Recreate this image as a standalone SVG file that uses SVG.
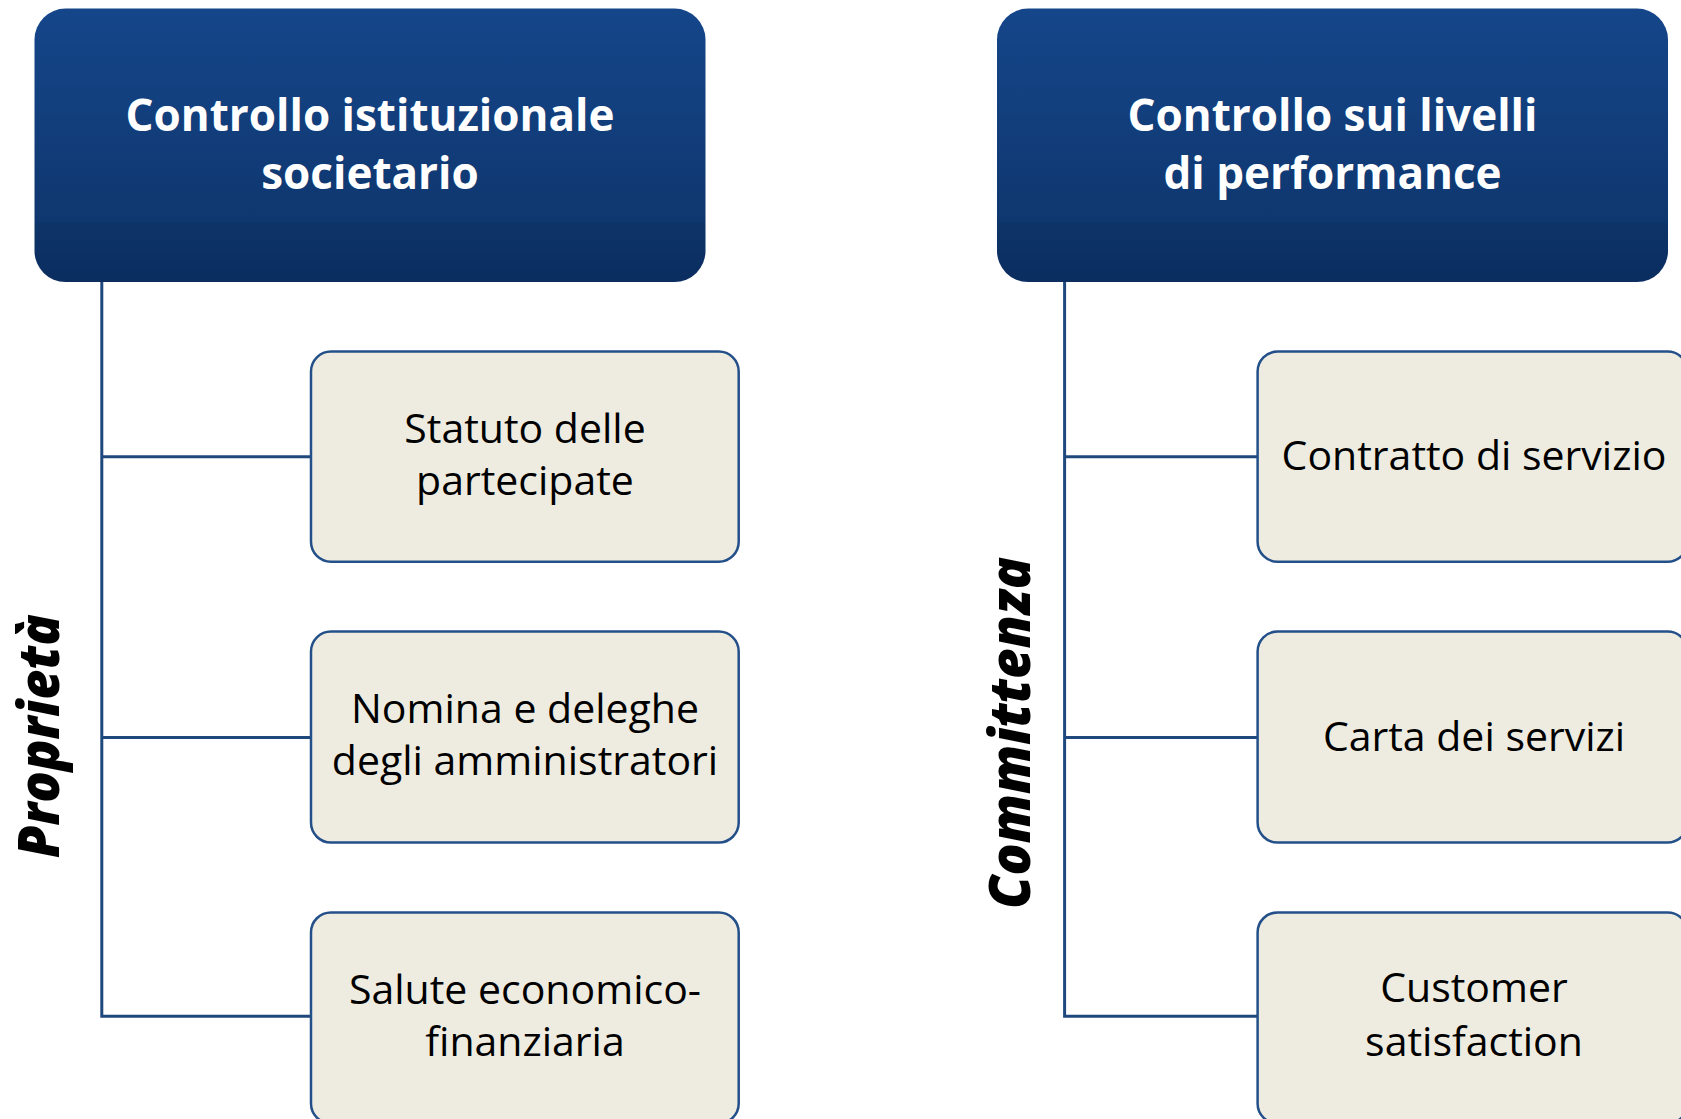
<svg xmlns="http://www.w3.org/2000/svg" width="1681" height="1119" viewBox="0 0 1681 1119">
<defs>
<linearGradient id="hdr" x1="0" y1="0" x2="0" y2="1">
<stop offset="0" stop-color="#15468A"/>
<stop offset="0.78" stop-color="#0F376F"/>
<stop offset="0.785" stop-color="#0D3468"/>
<stop offset="1" stop-color="#0B2D60"/>
</linearGradient>
<style>
.hdr{fill:url(#hdr);}
.hdrt{font-family:"Open Sans","Liberation Sans",sans-serif;font-weight:bold;font-size:44px;fill:#FFFFFF;text-anchor:middle;}
.box{fill:#EEECE1;stroke:#24508A;stroke-width:2.5;}
.boxt{font-family:"Open Sans","Liberation Sans",sans-serif;font-size:41px;fill:#000000;text-anchor:middle;}
.side{font-family:"Open Sans","DejaVu Sans",sans-serif;font-weight:800;font-style:italic;font-size:56px;fill:#000000;text-anchor:middle;}
.conn{fill:none;stroke:#1F497D;stroke-width:3;}
</style>
</defs>
<rect width="1681" height="1119" fill="#FFFFFF"/>
<g id="connectors">
<path class="conn" d="M101.8 282 V1016.3 H311"/>
<path class="conn" d="M101.8 456.7 H311"/>
<path class="conn" d="M101.8 737.6 H311"/>
<path class="conn" d="M1064.6 282 V1016.3 H1257.6"/>
<path class="conn" d="M1064.6 456.7 H1257.6"/>
<path class="conn" d="M1064.6 737.6 H1257.6"/>
</g>
<g id="hdr-left">
<rect class="hdr" x="34.5" y="8.6" width="671" height="273.4" rx="31"/>
<text class="hdrt" x="370" y="131">Controllo istituzionale</text>
<text class="hdrt" x="370" y="189">societario</text>
</g>
<g id="hdr-right">
<rect class="hdr" x="997" y="8.6" width="671" height="273.4" rx="31"/>
<text class="hdrt" x="1332.5" y="131">Controllo sui livelli</text>
<text class="hdrt" x="1332.5" y="189">di performance</text>
</g>
<g id="label-proprieta">
<text class="side" transform="translate(59,736) rotate(-90)" textLength="244" lengthAdjust="spacingAndGlyphs">Proprietà</text>
</g>
<g id="label-committenza">
<text class="side" transform="translate(1030,733) rotate(-90)" textLength="352" lengthAdjust="spacingAndGlyphs">Committenza</text>
</g>
<g id="box-statuto">
<rect class="box" x="311" y="351.6" width="427.7" height="210.2" rx="20"/>
<text class="boxt" x="525" y="442.7">Statuto delle</text>
<text class="boxt" x="525" y="494.7">partecipate</text>
</g>
<g id="box-nomina">
<rect class="box" x="311" y="631.5" width="427.7" height="211.1" rx="20"/>
<text class="boxt" x="525" y="723">Nomina e deleghe</text>
<text class="boxt" x="525" y="775">degli amministratori</text>
</g>
<g id="box-salute">
<rect class="box" x="311" y="912.4" width="427.7" height="211" rx="20"/>
<text class="boxt" x="525" y="1003.5">Salute economico-</text>
<text class="boxt" x="525" y="1055.5">finanziaria</text>
</g>
<g id="box-contratto">
<rect class="box" x="1257.6" y="351.6" width="430" height="210.2" rx="20"/>
<text class="boxt" x="1474" y="469.6">Contratto di servizio</text>
</g>
<g id="box-carta">
<rect class="box" x="1257.6" y="631.5" width="430" height="211.1" rx="20"/>
<text class="boxt" x="1474" y="750.5">Carta dei servizi</text>
</g>
<g id="box-customer">
<rect class="box" x="1257.6" y="912.4" width="430" height="211" rx="20"/>
<text class="boxt" x="1474" y="1002">Customer</text>
<text class="boxt" x="1474" y="1056">satisfaction</text>
</g>
</svg>
